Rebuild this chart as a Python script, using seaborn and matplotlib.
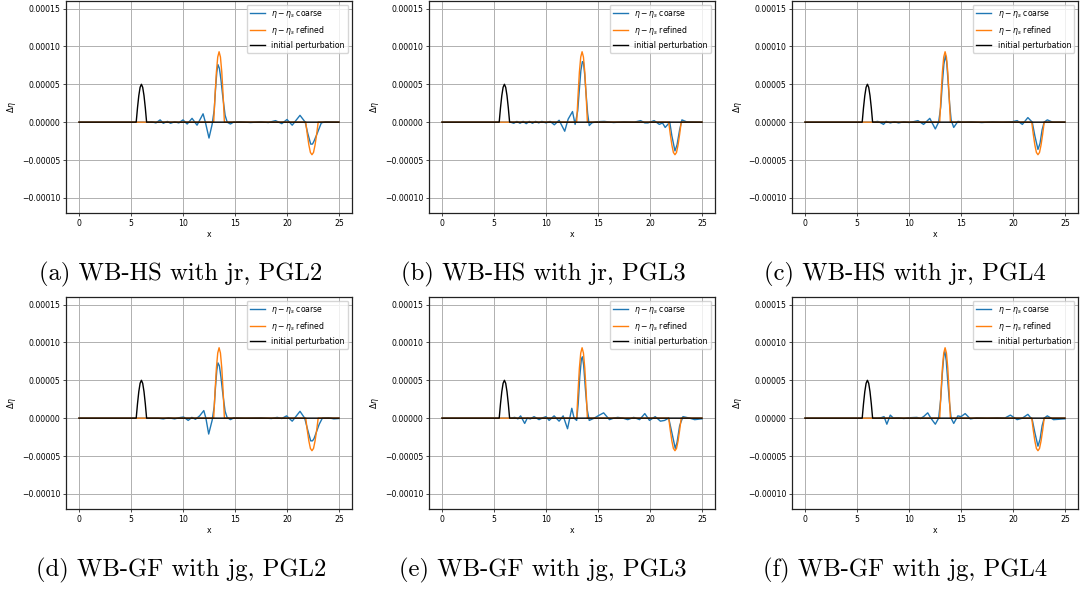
import numpy as np
import seaborn as sns
import matplotlib.pyplot as plt

# values in units of 1e-5
SCALE = 1e-5

CAPTIONS = [
    "(a) WB-HS with jr, PGL2",
    "(b) WB-HS with jr, PGL3",
    "(c) WB-HS with jr, PGL4",
    "(d) WB-GF with jg, PGL2",
    "(e) WB-GF with jg, PGL3",
    "(f) WB-GF with jg, PGL4",
]

INITIAL = [(0, 0), (5.5, 0), (5.625, 1.9), (5.75, 3.5), (5.875, 4.6), (6.0, 5.0),
           (6.125, 4.6), (6.25, 3.5), (6.375, 1.9), (6.5, 0), (25, 0)]

REFINED = [(0, 0), (12.95, 0), (13.08, 3.5), (13.21, 6.6), (13.34, 8.6), (13.47, 9.3),
           (13.6, 8.6), (13.73, 6.6), (13.86, 3.5), (13.98, 0), (21.8, 0), (21.95, -1.6),
           (22.1, -3.0), (22.25, -4.0), (22.4, -4.3), (22.55, -4.0), (22.7, -3.0),
           (22.85, -1.6), (23.0, 0), (25, 0)]

COARSE_A = [(0, 0), (6.5, 0), (7.0, 0.05), (7.4, -0.1), (7.8, 0.3), (8.1, -0.15), (8.5, 0.1),
            (8.8, -0.15), (9.2, 0.05), (9.6, -0.1), (10.0, 0.3), (10.4, -0.25), (10.87, 0.5),
            (11.35, -0.4), (11.93, 1.1), (12.15, 0.0), (12.5, -2.1), (12.8, -0.3), (13.0, 1.6),
            (13.12, 4.2), (13.25, 6.6), (13.36, 7.6), (13.5, 7.1), (13.65, 5.6), (13.83, 3.3),
            (14.05, 0.9), (14.25, 0.0), (14.56, -0.25), (14.85, 0.0), (15.5, 0.05), (16.5, -0.05),
            (17.5, 0.05), (18.2, -0.05), (18.9, 0.2), (19.5, -0.2), (20.0, 0.35), (20.5, -0.4),
            (21.25, 0.9), (21.75, 0.0), (22.0, -1.5), (22.28, -2.9), (22.45, -2.9), (22.6, -2.5),
            (22.9, -1.5), (23.3, -0.1), (23.7, 0.05), (25, 0)]

COARSE_B = [(0, 0), (6.6, 0), (6.9, -0.15), (7.2, 0.1), (7.5, -0.15), (7.8, 0.1), (8.1, -0.2),
            (8.4, 0.1), (8.7, -0.15), (9.0, 0.1), (9.3, -0.1), (9.6, 0.1), (10.0, -0.1), (10.4, 0.1),
            (10.8, -0.35), (11.26, 0.25), (11.8, -1.2), (12.13, 0.4), (12.55, 1.4), (12.8, -0.3),
            (13.05, 1.5), (13.2, 4.2), (13.35, 6.8), (13.5, 8.0), (13.6, 7.9), (13.72, 6.3),
            (13.85, 3.8), (14.0, 1.2), (14.16, -0.45), (14.4, -0.1), (14.8, 0.05), (15.6, 0.1),
            (16.5, -0.05), (17.5, 0.05), (18.5, 0), (19.1, 0.2), (19.5, -0.1), (19.8, -0.1),
            (20.4, 0.2), (20.9, -0.3), (21.2, -0.1), (21.46, -0.7), (21.9, 0.0), (22.1, -1.8),
            (22.4, -3.8), (22.6, -3.0), (22.85, -1.0), (23.07, 0.3), (23.5, 0.05), (25, 0)]

COARSE_C = [(0, 0), (6.5, 0), (7.0, 0.1), (7.3, -0.1), (7.55, -0.3), (7.8, 0.1), (8.2, -0.1),
            (8.6, 0.05), (9.0, -0.1), (9.5, 0.05), (10.0, -0.05), (10.4, 0.05), (10.86, 0.2),
            (11.4, -0.3), (12.0, 0.5), (12.53, -0.9), (12.85, 0.0), (13.05, 2.0), (13.2, 5.0),
            (13.35, 7.6), (13.5, 8.8), (13.62, 8.0), (13.75, 5.5), (13.9, 2.5), (14.05, 0.3),
            (14.3, -0.7), (14.7, 0.1), (15.2, 0.0), (16, 0.05), (17, -0.05), (18, 0.05), (19, 0),
            (19.9, 0.05), (20.4, 0.2), (20.9, -0.3), (21.43, 0.6), (21.85, 0.0), (22.1, -1.8),
            (22.4, -3.6), (22.6, -2.8), (22.8, -1.0), (23.0, 0.0), (23.3, 0.3), (23.8, 0.0), (25, 0)]

COARSE_D = [(0, 0), (7.6, 0), (8.1, -0.1), (8.6, 0.05), (9.2, -0.1), (9.6, 0.05), (10.06, 0.15),
            (10.5, -0.3), (10.85, 0.1), (11.2, -0.15), (11.6, 0.3), (12.0, 1.0), (12.2, 0),
            (12.47, -2.1), (12.8, -0.3), (13.0, 1.5), (13.12, 4.0), (13.25, 6.3), (13.36, 7.3),
            (13.5, 6.9), (13.65, 5.4), (13.83, 3.2), (14.05, 0.9), (14.24, 0.1), (14.56, -0.2),
            (14.9, 0.05), (16, 0), (17.5, 0.05), (18.5, -0.05), (19.06, 0.1), (19.5, -0.05),
            (19.96, 0.3), (20.5, -0.4), (21.25, 0.9), (21.7, 0.0), (22.0, -1.6), (22.28, -3.0),
            (22.45, -3.0), (22.6, -2.7), (23.1, -0.8), (23.4, 0.0), (24.0, 0.05), (24.5, -0.1),
            (25, -0.05)]

COARSE_E = [(0, 0), (6.6, 0), (7.0, 0.1), (7.3, -0.1), (7.56, 0.3), (7.95, -0.7), (8.2, 0.0),
            (8.5, -0.1), (8.85, 0.2), (9.33, -0.2), (9.7, 0.05), (10.0, 0.2), (10.3, -0.3),
            (10.78, 0.3), (11.26, -0.4), (11.65, 0.3), (12.07, -1.4), (12.48, 1.3), (12.7, 0.0),
            (12.95, -0.3), (13.1, 2.0), (13.25, 5.5), (13.4, 7.8), (13.5, 8.1), (13.62, 7.0),
            (13.78, 4.0), (13.95, 1.2), (14.16, -0.3), (14.64, 0.0), (15.0, 0.3), (15.54, 0.7),
            (16.1, -0.2), (16.5, 0.0), (16.9, 0.1), (17.4, 0.0), (17.86, -0.2), (18.44, 0.1),
            (19.0, -0.2), (19.5, 0.6), (19.95, -0.3), (20.5, 0.2), (21.0, -0.4), (21.4, -0.3),
            (21.8, 0.0), (22.1, -1.9), (22.43, -4.0), (22.6, -3.2), (22.85, -1.0), (23.17, 0.2),
            (23.8, 0.0), (24.3, -0.2), (24.9, -0.1), (25, -0.1)]

COARSE_F = [(0, 0), (7.0, 0), (7.3, 0.05), (7.6, 0.2), (7.87, -0.8), (8.2, 0.4), (8.5, 0.0),
            (9.0, 0.05), (9.5, -0.05), (10.0, 0.05), (10.76, 0.1), (11.1, -0.05), (11.4, 0.2),
            (11.8, 0.7), (12.1, 0.0), (12.53, -0.8), (12.85, 0.0), (13.05, 2.5), (13.2, 5.8),
            (13.35, 8.3), (13.45, 8.8), (13.58, 7.6), (13.72, 5.0), (13.88, 2.2), (14.05, 0.0),
            (14.3, -0.7), (14.7, 0.3), (15.0, 0.2), (15.4, 0.6), (15.9, -0.1), (16.5, 0.05),
            (17.5, 0), (18.5, 0.05), (19.2, 0.0), (19.75, 0.4), (20.4, -0.2), (20.9, 0.0),
            (21.43, 0.5), (21.85, -0.2), (22.1, -1.9), (22.4, -3.7), (22.6, -2.8), (22.8, -1.0),
            (23.0, 0.0), (23.3, 0.3), (23.9, -0.2), (24.9, -0.1), (25, -0.1)]

COARSE = [COARSE_A, COARSE_B, COARSE_C, COARSE_D, COARSE_E, COARSE_F]
YTICKS = [-0.0001, -0.00005, 0.0, 0.00005, 0.0001, 0.00015]

FS = 5.6
LW = 1.0
plt.rcParams.update({
    "font.family": "DejaVu Sans",
    "font.size": FS,
    "axes.linewidth": 0.9,
    "axes.edgecolor": "#222222",
    "xtick.major.size": 2.0,
    "ytick.major.size": 2.0,
    "xtick.major.width": 0.5,
    "ytick.major.width": 0.5,
})

W, H = 1080, 590
fig = plt.figure(figsize=(W / 100, H / 100), dpi=100)

col_left = [66, 429, 792]
row_top = [1, 297]
ax_w, ax_h = 286, 212
cap_x = [181, 543, 905]
cap_base = [280, 576]


def xy(pts):
    arr = np.array(pts, dtype=float)
    return arr[:, 0], arr[:, 1] * SCALE


for i, pts in enumerate(COARSE):
    r, c = divmod(i, 3)
    ax = fig.add_axes([col_left[c] / W, 1 - (row_top[r] + ax_h) / H, ax_w / W, ax_h / H])

    x, y = xy(pts)
    sns.lineplot(x=x, y=y, ax=ax, color="#1f77b4", lw=LW, estimator=None,
                 label=r"$\eta - \eta_s$ coarse")
    x, y = xy(REFINED)
    sns.lineplot(x=x, y=y, ax=ax, color="#ff7f0e", lw=LW, estimator=None,
                 label=r"$\eta - \eta_s$ refined")
    x, y = xy(INITIAL)
    sns.lineplot(x=x, y=y, ax=ax, color="black", lw=LW, estimator=None,
                 label="initial perturbation")

    ax.set_xlim(-1.25, 26.25)
    ax.set_ylim(-0.00012, 0.00016)
    ax.set_yticks(YTICKS)
    ax.set_xticks([0, 5, 10, 15, 20, 25])
    ax.grid(True, color="#b0b0b0", linewidth=0.7)
    ax.tick_params(labelsize=FS, pad=2)
    ax.set_xlabel("x", fontsize=FS, labelpad=2)
    ax.set_ylabel(r"$\Delta\eta$", fontsize=FS, labelpad=3)
    ax.legend(loc="upper right", fontsize=FS, handlelength=2.0, borderaxespad=0.5)

    fig.text(cap_x[c] / W, 1 - cap_base[r] / H, CAPTIONS[i], ha="center", va="baseline",
             fontfamily="cmr10", fontsize=17.8)

fig.savefig("out.png", dpi=100)
